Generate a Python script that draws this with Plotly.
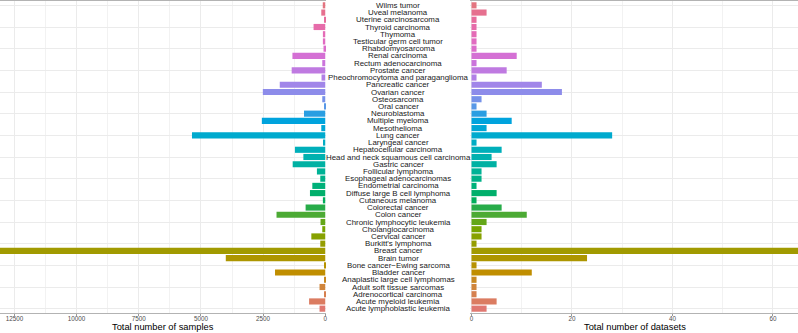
import math
import plotly.graph_objects as go

categories = [
    "Acute lymphoblastic leukemia", "Acute myeloid leukemia", "Adrenocortical carcinoma",
    "Adult soft tissue sarcomas", "Anaplastic large cell lymphomas", "Bladder cancer",
    "Bone cancer\u2212Ewing sarcoma", "Brain tumor", "Breast cancer", "Burkitt's lymphoma",
    "Cervical cancer", "Cholangiocarcinoma", "Chronic lymphocytic leukemia", "Colon cancer",
    "Colorectal cancer", "Cutaneous melanoma", "Diffuse large B cell lymphoma",
    "Endometrial carcinoma", "Esophageal adenocarcinomas", "Follicular lymphoma",
    "Gastric cancer", "Head and neck squamous cell carcinoma", "Hepatocellular carcinoma",
    "Laryngeal cancer", "Lung cancer", "Mesothelioma", "Multiple myeloma", "Neuroblastoma",
    "Oral cancer", "Osteosarcoma", "Ovarian cancer", "Pancreatic cancer",
    "Pheochromocytoma and paraganglioma", "Prostate cancer", "Rectum adenocarcinoma",
    "Renal carcinoma", "Rhabdomyosarcoma", "Testicular germ cell tumor", "Thymoma",
    "Thyroid carcinoma", "Uterine carcinosarcoma", "Uveal melanoma", "Wilms tumor",
]

samples = [
    230, 650, 50, 230, 25, 2020, 30, 4000, 13500, 200,
    560, 120, 190, 1960, 790, 95, 615, 520, 200, 335,
    1310, 880, 1220, 90, 5360, 160, 2550, 855, 30, 120,
    2510, 1830, 150, 1350, 120, 1320, 70, 95, 95, 470,
    30, 160, 100,
]

datasets = [
    3, 5, 1, 1, 1, 12, 1, 23, 67, 1,
    2, 2, 3, 11, 6, 1, 5, 1, 2, 2,
    5, 4, 6, 1, 28, 3, 8, 3, 1, 2,
    18, 14, 1, 7, 1, 9, 1, 1, 1, 1,
    1, 3, 1,
]

left_ticks = [0, 2500, 5000, 7500, 10000, 12500]
right_ticks = [0, 20, 40, 60]
left_title = "Total number of samples"
right_title = "Total number of datasets"


def hcl_to_hex(h, c=100.0, l=65.0):
    xn, yn, zn = 95.047, 100.0, 108.883
    un = 4 * xn / (xn + 15 * yn + 3 * zn)
    vn = 9 * yn / (xn + 15 * yn + 3 * zn)
    hr = math.radians(h)
    u = c * math.cos(hr)
    v = c * math.sin(hr)
    y = yn * ((l + 16) / 116) ** 3 if l > 8 else yn * l / 903.3
    up = u / (13 * l) + un
    vp = v / (13 * l) + vn
    x = 9 * y * up / (4 * vp)
    z = y * (12 - 3 * up - 20 * vp) / (4 * vp)
    x, y, z = x / 100, y / 100, z / 100
    r = 3.2404542 * x - 1.5371385 * y - 0.4985314 * z
    g = -0.9692660 * x + 1.8760108 * y + 0.0415560 * z
    b = 0.0556434 * x - 0.2040259 * y + 1.0572252 * z

    def gam(t):
        t = max(0.0, min(1.0, t))
        return 12.92 * t if t <= 0.0031308 else 1.055 * t ** (1 / 2.4) - 0.055

    return "#%02x%02x%02x" % tuple(int(round(gam(t) * 255)) for t in (r, g, b))


n = len(categories)
colors = [hcl_to_hex(15 + 360 * i / n, c=78, l=62) for i in range(n)]

W, H = 798, 333
MT, MB = 1, 20
plot_h = H - MT - MB
left_dom = [0, 326 / W]
right_dom = [470 / W, 1]

fig = go.Figure()
fig.add_trace(go.Bar(
    y=categories, x=samples, orientation="h", xaxis="x", yaxis="y",
    marker=dict(color=colors, line=dict(width=0)), width=0.85,
    showlegend=False, hoverinfo="x+y",
))
fig.add_trace(go.Bar(
    y=categories, x=datasets, orientation="h", xaxis="x2", yaxis="y2",
    marker=dict(color=colors, line=dict(width=0)), width=0.85,
    showlegend=False, hoverinfo="x+y",
))

grid = "#EBEBEB"
border = "#B3B3B3"
fam = "Liberation Sans, Arial, sans-serif"
tickfont = dict(family=fam, size=6.3, color="#4D4D4D")
titlefont = dict(family=fam, size=9.3, color="#000000")

fig.update_layout(
    width=W, height=H,
    margin=dict(l=0, r=0, t=MT, b=MB, autoexpand=False),
    paper_bgcolor="white", plot_bgcolor="white",
    xaxis=dict(
        domain=left_dom, range=[13080, -30], tickvals=left_ticks,
        ticktext=[str(t) for t in left_ticks], showgrid=True, gridcolor=grid, gridwidth=0.6,
        minor=dict(showgrid=True, gridcolor="#F2F2F2", gridwidth=0.5, dtick=1250, tick0=0),
        zeroline=False, showline=True, linecolor=border, linewidth=1, mirror=True,
        ticks="outside", ticklen=2, tickcolor="#999999", tickfont=tickfont,
        ticklabelstandoff=-3,
        automargin=False, anchor="y", fixedrange=True,
    ),
    xaxis2=dict(
        domain=right_dom, range=[-0.3, 65], tickvals=right_ticks,
        ticktext=[str(t) for t in right_ticks], showgrid=True, gridcolor=grid, gridwidth=0.6,
        minor=dict(showgrid=True, gridcolor="#F2F2F2", gridwidth=0.5, dtick=10, tick0=0),
        zeroline=False, showline=True, linecolor=border, linewidth=1, mirror=True,
        ticks="outside", ticklen=2, tickcolor="#999999", tickfont=tickfont,
        ticklabelstandoff=-3,
        automargin=False, anchor="y2", fixedrange=True,
    ),
    yaxis=dict(
        domain=[0, 1], anchor="x", type="category", categoryorder="array",
        categoryarray=categories, showticklabels=False, showgrid=True,
        gridcolor=grid, gridwidth=0.6, range=[-0.6, n - 0.4], fixedrange=True,
        showline=False, zeroline=False, automargin=False,
    ),
    yaxis2=dict(
        domain=[0, 1], anchor="x2", type="category", categoryorder="array",
        categoryarray=categories, showticklabels=False, showgrid=True,
        gridcolor=grid, gridwidth=0.6, range=[-0.6, n - 0.4], fixedrange=True,
        showline=False, zeroline=False, matches="y", automargin=False,
    ),
)

for cat in categories:
    fig.add_annotation(
        x=(398 / W), xref="paper", y=cat, yref="y", text=cat, showarrow=False,
        xanchor="center", yanchor="middle", borderpad=0,
        font=dict(family=fam, size=7.9, color="#1A1A1A"),
    )

title_y = -(327 - (H - MB)) / plot_h
fig.add_annotation(x=sum(left_dom) / 2, xref="paper", y=title_y, yref="paper",
                   text=left_title, showarrow=False, xanchor="center", yanchor="middle",
                   font=titlefont, borderpad=0)
fig.add_annotation(x=(635 / W), xref="paper", y=title_y, yref="paper",
                   text=right_title, showarrow=False, xanchor="center", yanchor="middle",
                   font=titlefont, borderpad=0)

fig.write_html(
    "out.html",
    config={"displayModeBar": False},
    post_script="document.body.style.margin='0';document.body.style.padding='0';",
)
